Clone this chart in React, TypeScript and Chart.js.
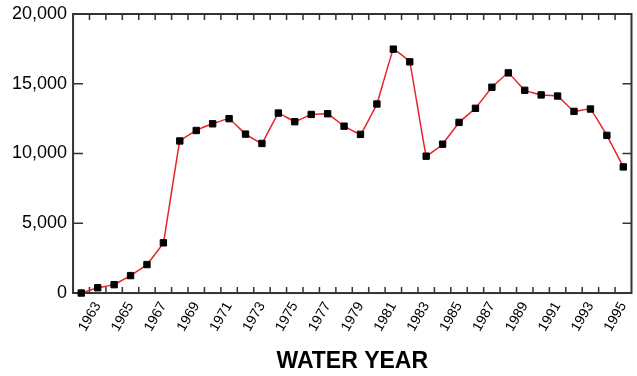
import { useEffect, useRef } from 'react';
import { Chart, registerables } from 'chart.js';

Chart.register(...registerables);

const years = [
  '1962', '1963', '1964', '1965', '1966', '1967', '1968', '1969', '1970', '1971',
  '1972', '1973', '1974', '1975', '1976', '1977', '1978', '1979', '1980', '1981',
  '1982', '1983', '1984', '1985', '1986', '1987', '1988', '1989', '1990', '1991',
  '1992', '1993', '1994', '1995',
];

const values = [
  0, 380, 600, 1250, 2040, 3600, 10900, 11650, 12130, 12500,
  11390, 10720, 12900, 12280, 12800, 12850, 11960, 11370, 13550, 17480,
  16570, 9810, 10670, 12230, 13240, 14750, 15780, 14530, 14200, 14120,
  13020, 13190, 11300, 9040,
];

const yTickValues = [0, 5000, 10000, 15000, 20000];

const FONT = '"Liberation Sans", Arial, Helvetica, sans-serif';

const framePlugin = {
  id: 'frame',
  beforeDatasetsDraw(chart: any) {
    const { ctx, chartArea: a, scales } = chart;
    const xs = scales.x;
    const ys = scales.y;
    ctx.save();
    ctx.strokeStyle = '#333';
    ctx.lineWidth = 1.5;
    ctx.beginPath();
    for (let i = 1; i < years.length; i++) {
      const px = xs.getPixelForValue(i - 0.5);
      ctx.moveTo(px, a.bottom);
      ctx.lineTo(px, a.bottom - 6);
      ctx.moveTo(px, a.top);
      ctx.lineTo(px, a.top + 6);
    }
    for (const v of yTickValues) {
      const py = ys.getPixelForValue(v);
      ctx.moveTo(a.left, py);
      ctx.lineTo(a.left + 10, py);
      ctx.moveTo(a.right, py);
      ctx.lineTo(a.right - 9, py);
    }
    ctx.stroke();
    ctx.lineWidth = 2;
    ctx.strokeRect(a.left, a.top, a.right - a.left, a.bottom - a.top);
    ctx.restore();
  },
};

export default function App() {
  const ref = useRef<HTMLCanvasElement | null>(null);

  useEffect(() => {
    document.body.style.margin = '0';
    const canvas = ref.current;
    if (!canvas) return;
    const chart = new Chart(canvas, {
      type: 'line',
      data: {
        labels: years,
        datasets: [
          {
            data: values,
            borderColor: '#e8232b',
            borderWidth: 1.5,
            tension: 0.05,
            pointStyle: 'rect',
            pointRadius: 4.5,
            pointBorderWidth: 1,
            pointBackgroundColor: '#000',
            pointBorderColor: '#000',
            clip: false,
          } as any,
        ],
      },
      options: {
        animation: false,
        responsive: false,
        events: [],
        layout: { padding: { left: 6, right: 2, top: 14, bottom: 1 } },
        plugins: {
          legend: { display: false },
          tooltip: { enabled: false },
          title: { display: false },
        },
        scales: {
          x: {
            type: 'category',
            offset: true,
            grid: { display: false, drawTicks: false },
            border: { display: false },
            afterFit: (s: any) => {
              s.paddingRight = 0;
              s.paddingLeft = 0;
            },
            ticks: {
              autoSkip: false,
              maxRotation: 60,
              minRotation: 60,
              padding: 6,
              color: '#000',
              font: { family: FONT, size: 14 },
              callback: (_v: any, i: number) =>
                Number(years[i]) % 2 === 1 ? years[i] : '',
            },
            title: {
              display: true,
              text: 'WATER YEAR',
              color: '#000',
              font: { family: FONT, size: 23, weight: 'bold' },
              padding: { top: 7, bottom: 0 },
            },
          },
          y: {
            min: 0,
            max: 20000,
            grid: { display: false, drawTicks: false },
            border: { display: false },
            afterFit: (s: any) => {
              s.paddingTop = 0;
              s.paddingBottom = 0;
            },
            ticks: {
              stepSize: 5000,
              padding: 6,
              color: '#000',
              font: { family: FONT, size: 18 },
              callback: (v: any) => Number(v).toLocaleString('en-US'),
            },
          },
        },
      },
      plugins: [framePlugin],
    });
    return () => chart.destroy();
  }, []);

  return (
    <div style={{ width: 637, height: 376 }}>
      <canvas ref={ref} width={637} height={376} />
    </div>
  );
}
